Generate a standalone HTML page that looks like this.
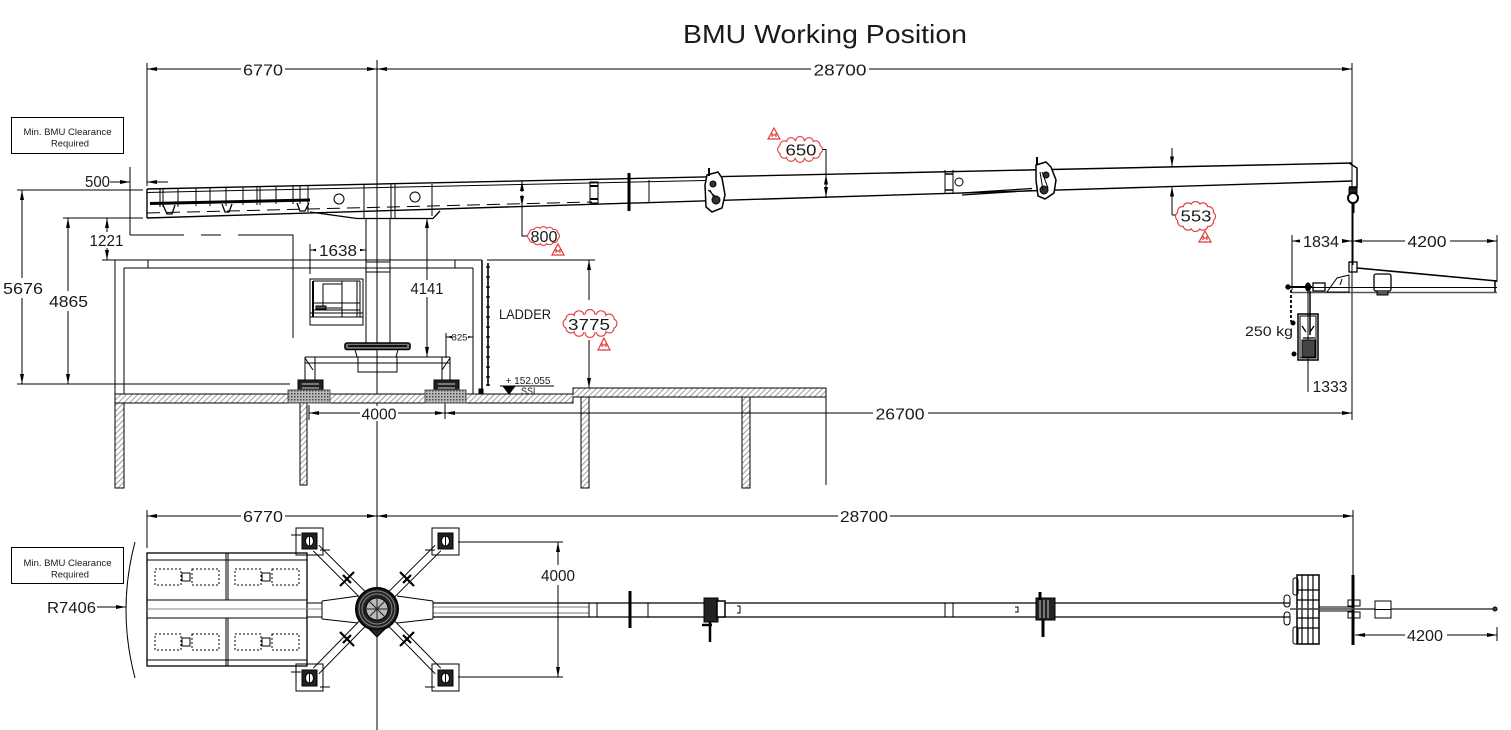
<!DOCTYPE html>
<html><head><meta charset="utf-8"><style>
html,body{margin:0;padding:0;background:#fff;}
svg{display:block;}
text{font-family:"Liberation Sans",sans-serif;fill:#1a1a1a;}
</style></head><body>
<svg width="1511" height="730" viewBox="0 0 1511 730" xmlns="http://www.w3.org/2000/svg">
<defs>
<marker id="ar" viewBox="0 0 10 4" refX="10" refY="2" markerWidth="10" markerHeight="4" markerUnits="userSpaceOnUse" orient="auto-start-reverse"><path d="M0,0L10,2L0,4z" fill="#000"/></marker>
<pattern id="h" width="4" height="4" patternUnits="userSpaceOnUse" patternTransform="rotate(45)"><rect width="4" height="4" fill="#fff"/><line x1="0" y1="0" x2="0" y2="4" stroke="#777" stroke-width="1.4"/></pattern>
<pattern id="d" width="3" height="3" patternUnits="userSpaceOnUse"><rect width="3" height="3" fill="#bbb"/><rect width="1.5" height="1.5" fill="#444"/></pattern>
</defs>
<rect width="1511" height="730" fill="#fff"/>

<!-- Title -->
<text x="825" y="43" font-size="26" text-anchor="middle" textLength="284" lengthAdjust="spacingAndGlyphs">BMU Working Position</text>

<g stroke="#000" stroke-width="1" fill="none">
<!-- central axis -->
<line x1="377" y1="60" x2="377" y2="730"/>
<!-- top dims -->
<line x1="147" y1="63" x2="147" y2="186"/>
<line x1="1352" y1="63" x2="1352" y2="420"/>
<line x1="147" y1="69" x2="377" y2="69" marker-start="url(#ar)" marker-end="url(#ar)"/>
<line x1="377" y1="69" x2="1352" y2="69" marker-start="url(#ar)" marker-end="url(#ar)"/>

<!-- clearance box -->
<rect x="11.5" y="117.5" width="112" height="36"/>

<!-- 500 dim -->
<line x1="110" y1="182" x2="130" y2="182" marker-end="url(#ar)"/>
<line x1="168" y1="182" x2="147" y2="182" marker-end="url(#ar)"/>
<line x1="130" y1="167" x2="130" y2="235"/>
<!-- clearance line -->
<path d="M130,235H184M201,235H221M238,235H293V338"/>

<!-- 5676 / 4865 / 1221 -->
<line x1="17" y1="190" x2="143" y2="190"/>
<line x1="63" y1="218" x2="143" y2="218"/>
<line x1="17" y1="384" x2="290" y2="384"/>
<line x1="22" y1="278" x2="22" y2="190" marker-end="url(#ar)"/>
<line x1="22" y1="298" x2="22" y2="384" marker-end="url(#ar)"/>
<line x1="68" y1="291" x2="68" y2="218" marker-end="url(#ar)"/>
<line x1="68" y1="311" x2="68" y2="384" marker-end="url(#ar)"/>
<line x1="107" y1="232" x2="107" y2="218" marker-end="url(#ar)"/>
<line x1="107" y1="248" x2="107" y2="260" marker-end="url(#ar)"/>
<line x1="102" y1="260" x2="115" y2="260"/>

<!-- building -->
<line x1="115" y1="260" x2="482" y2="260"/>
<line x1="124" y1="268" x2="473" y2="268"/>
<line x1="115" y1="260" x2="115" y2="394"/>
<line x1="124" y1="268" x2="124" y2="394"/>
<line x1="148" y1="260" x2="148" y2="268"/>
<line x1="455" y1="260" x2="455" y2="268"/>
<line x1="473" y1="268" x2="473" y2="394"/>
<line x1="482" y1="260" x2="482" y2="392" stroke-width="1.5"/>
<rect x="479" y="389" width="4" height="4" fill="#000"/>
<line x1="487" y1="260" x2="595" y2="260"/>
<!-- ladder -->
<line x1="488" y1="263" x2="488" y2="386" stroke-width="1.6"/>
<path d="M486,267h4M486,277h4M486,287h4M486,297h4M486,307h4M486,317h4M486,327h4M486,337h4M486,347h4M486,357h4M486,367h4M486,377h4M486,385h4" stroke-width="1.3"/>

<!-- slab -->
<path d="M115,394H573V388H826V397H573V403H115Z" fill="url(#h)"/>
<!-- columns -->
<rect x="115" y="403" width="9" height="85" fill="url(#h)"/>
<rect x="300" y="403" width="7" height="82" fill="url(#h)"/>
<rect x="581" y="397" width="8" height="91" fill="url(#h)"/>
<rect x="742" y="397" width="8" height="91" fill="url(#h)"/>
<line x1="826" y1="397" x2="826" y2="485"/>

<!-- SSL -->
<line x1="500" y1="386" x2="554" y2="386"/>
<path d="M503,386L515,386L509,394Z" fill="#000"/>

<!-- 4000 / 26700 side -->
<line x1="309" y1="405" x2="309" y2="420"/>
<line x1="445" y1="403" x2="445" y2="419"/>
<line x1="309" y1="413" x2="445" y2="413" marker-start="url(#ar)" marker-end="url(#ar)"/>
<line x1="445" y1="413" x2="1352" y2="413" marker-start="url(#ar)" marker-end="url(#ar)"/>

<!-- mast -->
<line x1="366" y1="218" x2="366" y2="343"/>
<line x1="390" y1="218" x2="390" y2="343"/>
<line x1="366" y1="262" x2="390" y2="262"/>
<line x1="366" y1="272" x2="390" y2="272"/>

<!-- 1638 -->
<line x1="310" y1="244" x2="310" y2="274"/>
<line x1="310" y1="250" x2="366" y2="250" marker-start="url(#ar)" marker-end="url(#ar)"/>

<!-- 4141 -->
<line x1="427" y1="280" x2="427" y2="218" marker-end="url(#ar)"/>
<line x1="427" y1="297" x2="427" y2="357" marker-end="url(#ar)"/>

<!-- 825 -->
<line x1="446" y1="333" x2="446" y2="358"/>
<line x1="446" y1="337" x2="473" y2="337" marker-start="url(#ar)" marker-end="url(#ar)"/>

<!-- cab -->
<rect x="310" y="279" width="53" height="46"/>
<line x1="313" y1="281" x2="313" y2="317" stroke-width="2"/>
<rect x="323" y="284" width="19" height="24"/>
<path d="M313,303H360M313,310H360M310,313H363M310,317H363M342,281V317M357,281V317M360,281V317M313,281H360"/>
<path d="M316,306h10v3h-10z" fill="#555"/>

<!-- turntable and carriage -->
<rect x="345" y="343" width="65" height="6.5" rx="2" stroke-width="1.6" fill="#777"/>
<line x1="348" y1="346" x2="407" y2="346" stroke="#111" stroke-width="2"/>
<path d="M355,349.5L357,357M398,349.5L396,357"/>
<rect x="358" y="357" width="39" height="15"/>
<line x1="305" y1="357" x2="450" y2="357"/>
<line x1="305" y1="363" x2="450" y2="363"/>
<path d="M305,357V380M315,357V380M442,357V380M450,357V380M305,358L313,370M322,363H313M450,358L442,370"/>
<rect x="298" y="380" width="25" height="12" fill="#222"/>
<rect x="434" y="380" width="25" height="12" fill="#222"/>
<path d="M302,384h17M302,388h17M438,384h17M438,388h17" stroke="#ccc"/>
<rect x="288" y="390" width="42" height="13" fill="url(#d)" stroke="#555"/>
<rect x="425" y="390" width="41" height="13" fill="url(#d)" stroke="#555"/>

<!-- 3775 dim -->
<line x1="589" y1="300" x2="589" y2="260" marker-end="url(#ar)"/>
<line x1="589" y1="340" x2="589" y2="388" marker-end="url(#ar)"/>

<!-- BOOM side -->
<path d="M147,189L1352,163" stroke-width="1.4"/>
<path d="M147,218L1352,181" stroke-width="1.4"/>
<line x1="147" y1="189" x2="147" y2="218" stroke-width="1.4"/>
<path d="M147,192.5L705,180.5"/>
<path d="M147,213L592,202" stroke-dasharray="13,7"/>
<!-- counterweight frame -->
<path d="M160,189V207M163,189V207M178,188V207M196,188V206M210,188V206M226,187V206M243,187V205M257,186V205M260,186V205M276,186V204M293,185V204M300,185V204"/>
<line x1="150" y1="203.5" x2="310" y2="200" stroke-width="3"/>
<path d="M163,205L167,214H172L175,205M222,204L225,212H229L232,204M297,203L300,211H305L309,203" stroke-width="1.3"/>
<line x1="308" y1="186" x2="308" y2="212"/>
<circle cx="339" cy="199" r="5"/>
<circle cx="415" cy="197" r="5"/>
<path d="M364,185V218M391,184V218M395,184V218M432,184V216"/>
<path d="M310,212L357,218.5H433L440,211" stroke-width="1.3"/>
<!-- section details -->
<rect x="590" y="182" width="8" height="21"/>
<path d="M590,186h8M590,199h8" stroke-width="2"/>
<line x1="629" y1="173" x2="629" y2="211" stroke-width="3"/>
<line x1="649" y1="180" x2="649" y2="202"/>
<!-- knuckle 1 -->
<path d="M707,175L718,172L722,178L725,195L722,208L712,212L706,207L705,185Z" stroke-width="1.5" fill="#fff"/>
<line x1="709" y1="168" x2="709" y2="176" stroke-width="2"/>
<circle cx="713" cy="184" r="3" fill="#333"/>
<circle cx="716" cy="200" r="4" fill="#333"/>
<path d="M708,190L716,197M710,190L714,198"/>
<!-- section 2 details -->
<path d="M945,170V194M953,170V193"/>
<path d="M945,174h8M945,190h8" stroke-width="1.5"/>
<circle cx="959" cy="182" r="4"/>
<path d="M962,195L1032,190.5M962,193L1032,188.5" stroke-width="1.3"/>
<!-- knuckle 2 -->
<path d="M1036,165L1046,162L1051,167L1056,180L1054,193L1045,199L1038,196L1036,180Z" stroke-width="1.5" fill="#fff"/>
<line x1="1037" y1="157" x2="1037" y2="165" stroke-width="2"/>
<circle cx="1046" cy="175" r="3" fill="#333"/>
<circle cx="1044" cy="190" r="4" fill="#333"/>
<path d="M1040,172L1043,190M1042,172L1048,188"/>
<!-- tip -->
<path d="M1349,163L1357,168V187H1349" stroke-width="1.5"/>
<rect x="1349" y="188" width="8" height="5" fill="#222"/>
<circle cx="1353" cy="198" r="5" stroke-width="2" fill="#fff"/>
<line x1="1353" y1="203" x2="1353" y2="213" stroke-width="3"/>

<!-- 800 leader -->
<line x1="522" y1="192" x2="522" y2="181" marker-end="url(#ar)"/>
<line x1="522" y1="195" x2="522" y2="206" marker-end="url(#ar)"/>
<path d="M522,206V236H532"/>
<!-- 650 leader -->
<path d="M822,149.5H826V198"/>
<line x1="826" y1="185" x2="826" y2="174.5" marker-end="url(#ar)"/>
<line x1="826" y1="187" x2="826" y2="197" marker-end="url(#ar)"/>
<!-- 553 leader -->
<line x1="1172" y1="148" x2="1172" y2="166.5" marker-end="url(#ar)"/>
<line x1="1172" y1="215" x2="1172" y2="186.5" marker-end="url(#ar)"/>
<line x1="1172" y1="215" x2="1181" y2="215"/>

<!-- cradle side -->
<line x1="1292" y1="235" x2="1292" y2="290"/>
<line x1="1497" y1="235" x2="1497" y2="282"/>
<line x1="1292" y1="241" x2="1352" y2="241" marker-start="url(#ar)" marker-end="url(#ar)"/>
<line x1="1352" y1="241" x2="1497" y2="241" marker-start="url(#ar)" marker-end="url(#ar)"/>
<line x1="1353" y1="213" x2="1353" y2="265"/>
<rect x="1349" y="262" width="8" height="10" stroke-width="1.3"/>
<line x1="1357" y1="268" x2="1497" y2="281" stroke-width="1.6"/>
<line x1="1290" y1="287.5" x2="1497" y2="287.5"/>
<line x1="1292" y1="292.5" x2="1497" y2="292.5" stroke="#555" stroke-width="1.5"/>
<line x1="1495" y1="280" x2="1495" y2="292" stroke-width="1.5"/>
<rect x="1374" y="274" width="17" height="17" rx="2" stroke-width="1.3"/>
<path d="M1377,291v4h11v-4" fill="#555"/>
<path d="M1327,292L1337,278L1349,275V292Z"/>
<path d="M1340,285l2,-6"/>
<rect x="1313" y="283" width="12" height="8" stroke-width="1.3"/>
<line x1="1288" y1="287" x2="1312" y2="287" stroke-width="2"/>
<circle cx="1288" cy="287" r="2.2" fill="#000"/>
<ellipse cx="1308" cy="287" rx="2.5" ry="4" fill="#000"/>
<path d="M1291,290V322" stroke-dasharray="3,2" stroke-width="1.8"/>
<line x1="1308" y1="291" x2="1308" y2="392"/>
<line x1="1310" y1="291" x2="1310" y2="335" stroke-width="1.5"/>
<rect x="1298" y="314" width="20" height="46" stroke-width="1.5"/>
<rect x="1300" y="316" width="16" height="42"/>
<path d="M1302,326l4,6M1314,326l-4,6M1303,338h12" stroke-width="1.3"/>
<rect x="1302" y="340" width="13" height="17" fill="#444"/>
<circle cx="1293" cy="323" r="2" fill="#000"/>
<circle cx="1294" cy="354" r="2" fill="#000"/>

<!-- ============ PLAN VIEW ============ -->
<line x1="147" y1="510" x2="147" y2="548"/>
<line x1="1353" y1="510" x2="1353" y2="575"/>
<line x1="147" y1="516" x2="377" y2="516" marker-start="url(#ar)" marker-end="url(#ar)"/>
<line x1="377" y1="516" x2="1353" y2="516" marker-start="url(#ar)" marker-end="url(#ar)"/>
<rect x="11.5" y="547.5" width="112" height="36"/>
<path d="M135,542Q117,610 135,678"/>
<line x1="97" y1="607" x2="126" y2="607" marker-end="url(#ar)"/>

<!-- counterweights -->
<rect x="147" y="553" width="160" height="113" stroke-width="1.3"/>
<path d="M147,560H307M147,600H307M147,618H307M147,660H307M226,553V600M228,553V600M226,618V666M228,618V666"/>
<line x1="147" y1="609" x2="322" y2="609" stroke="#888"/>
<g stroke-dasharray="2,2">
<rect x="155" y="569" width="26" height="16"/><rect x="192" y="569" width="27" height="16"/>
<rect x="235" y="569" width="26" height="16"/><rect x="272" y="569" width="27" height="16"/>
<rect x="155" y="634" width="26" height="16"/><rect x="192" y="634" width="27" height="16"/>
<rect x="235" y="634" width="26" height="16"/><rect x="272" y="634" width="27" height="16"/>
</g>
<rect x="182" y="573" width="8" height="8"/><rect x="262" y="573" width="8" height="8"/>
<rect x="182" y="638" width="8" height="8"/><rect x="262" y="638" width="8" height="8"/>

<!-- plan boom -->
<path d="M307,603H322M307,617H322"/>
<path d="M433,603H1290M433,617H1290" stroke-width="1.3"/>
<path d="M433,607H589M433,613H589" stroke="#777"/>
<path d="M322,601L358,596M322,619L358,623M322,601V619M397,596L433,601M397,623L433,619M433,601V619"/>
<rect x="589" y="603" width="8" height="14"/>
<line x1="630" y1="591" x2="630" y2="628" stroke-width="3"/>
<line x1="648" y1="603" x2="648" y2="617"/>
<rect x="704" y="598" width="14" height="24" fill="#222"/>
<rect x="717" y="601" width="8" height="16" fill="#fff" stroke-width="1.5"/>
<path d="M710,622V642M702,625H712" stroke-width="2.5"/>
<path d="M737,606h3v7h-3"/>
<rect x="945" y="603" width="8" height="14"/>
<path d="M1015,607h3v5h-3"/>
<rect x="1036" y="598" width="19" height="22" fill="#222"/>
<path d="M1040,600v18M1044,600v18M1048,600v18" stroke="#ccc"/>
<path d="M1040,592V600M1043,620V637" stroke-width="3"/>

<!-- hub -->
<circle cx="377" cy="609" r="21" fill="#222" stroke-width="2"/>
<circle cx="377" cy="609" r="18" stroke="#888"/>
<circle cx="377" cy="609" r="15" stroke="#888"/>
<circle cx="377" cy="609" r="11" fill="#bbb"/>
<path d="M370,602L384,616M384,602L370,616M377,599V619M367,609H387" stroke="#222"/>
<path d="M369,629L385,629L377,637Z" fill="#222"/>

<!-- arms -->
<path d="M318.8,545.2L364.8,591.2M313.2,550.8L359.2,596.8"/>
<path d="M440.8,550.8L394.8,596.8M435.2,545.2L389.2,591.2"/>
<path d="M318.8,673.8L364.8,626.8M313.2,668.2L359.2,621.2"/>
<path d="M440.8,668.2L394.8,621.2M435.2,673.8L389.2,626.8"/>
<path d="M340,586L354,572M343,575L351,583M400,572L414,586M403,583L411,575M340,632L354,646M343,643L351,635M400,646L414,632M403,635L411,643" stroke-width="2.2"/>

<!-- pads -->
<g>
<rect x="296" y="528" width="27" height="27"/><rect x="302" y="533" width="15" height="16" fill="#222"/><ellipse cx="309.5" cy="541" rx="4" ry="5" fill="#fff" stroke="#000"/><line x1="309.5" y1="536" x2="309.5" y2="546"/>
<rect x="432" y="528" width="27" height="27"/><rect x="438" y="533" width="15" height="16" fill="#222"/><ellipse cx="445.5" cy="541" rx="4" ry="5" fill="#fff" stroke="#000"/><line x1="445.5" y1="536" x2="445.5" y2="546"/>
<rect x="296" y="664" width="27" height="27"/><rect x="302" y="670" width="15" height="16" fill="#222"/><ellipse cx="309.5" cy="678" rx="4" ry="5" fill="#fff" stroke="#000"/><line x1="309.5" y1="673" x2="309.5" y2="683"/>
<rect x="432" y="664" width="27" height="27"/><rect x="438" y="670" width="15" height="16" fill="#222"/><ellipse cx="445.5" cy="678" rx="4" ry="5" fill="#fff" stroke="#000"/><line x1="445.5" y1="673" x2="445.5" y2="683"/>
</g>
<path d="M291,535H301M320,550H330M425,550H435M291,672H301M320,687H330M425,687H435"/>
<!-- 4000 plan dim -->
<path d="M458,542H563M458,677H563"/>
<line x1="558" y1="565" x2="558" y2="542" marker-end="url(#ar)"/>
<line x1="558" y1="585" x2="558" y2="677" marker-end="url(#ar)"/>

<!-- plan cradle -->
<rect x="1297" y="575" width="22" height="69" stroke-width="1.5"/>
<path d="M1302,575V644M1308,575V644M1313,575V644M1297,590H1319M1297,600H1319M1297,609H1319M1297,618H1319M1297,628H1319" stroke-width="1.2"/>
<rect x="1293" y="578" width="5" height="17" rx="2"/>
<rect x="1293" y="627" width="5" height="17" rx="2"/>
<rect x="1284" y="595" width="6" height="12" rx="3"/>
<rect x="1284" y="612" width="6" height="13" rx="3"/>
<line x1="1353" y1="575" x2="1353" y2="645" stroke-width="3"/>
<rect x="1348" y="600" width="12" height="6"/>
<rect x="1348" y="612" width="12" height="6"/>
<path d="M1319,607H1353M1319,611H1353"/>
<line x1="1290" y1="609" x2="1495" y2="609" stroke="#444" stroke-width="1.6"/>
<circle cx="1495" cy="609" r="2" fill="#444"/>
<rect x="1375" y="601" width="16" height="17" fill="#fff"/>
<line x1="1375" y1="609.5" x2="1391" y2="609.5"/>
<line x1="1497" y1="627" x2="1497" y2="641"/>
<line x1="1355" y1="635" x2="1497" y2="635" marker-start="url(#ar)" marker-end="url(#ar)"/>
</g>

<!-- red clouds -->
<g fill="#e23b3b">
<circle cx="612" cy="323.5" r="5.5"/><circle cx="609.1" cy="328" r="5.5"/><circle cx="601" cy="331.3" r="5.5"/><circle cx="590" cy="332.5" r="5.5"/><circle cx="579" cy="331.3" r="5.5"/><circle cx="570.9" cy="328" r="5.5"/><circle cx="568" cy="323.5" r="5.5"/><circle cx="570.9" cy="319" r="5.5"/><circle cx="579" cy="315.7" r="5.5"/><circle cx="590" cy="314.5" r="5.5"/><circle cx="601" cy="315.7" r="5.5"/><circle cx="609.1" cy="319" r="5.5"/>
<circle cx="555.5" cy="236" r="4.5"/><circle cx="553.9" cy="238.75" r="4.5"/><circle cx="549.5" cy="240.8" r="4.5"/><circle cx="543.5" cy="241.5" r="4.5"/><circle cx="537.5" cy="240.8" r="4.5"/><circle cx="533.1" cy="238.75" r="4.5"/><circle cx="531.5" cy="236" r="4.5"/><circle cx="533.1" cy="233.25" r="4.5"/><circle cx="537.5" cy="231.2" r="4.5"/><circle cx="543.5" cy="230.5" r="4.5"/><circle cx="549.5" cy="231.2" r="4.5"/><circle cx="553.9" cy="233.25" r="4.5"/>
<circle cx="818" cy="149.5" r="5"/><circle cx="815.6" cy="153.75" r="5"/><circle cx="809" cy="156.9" r="5"/><circle cx="800" cy="158" r="5"/><circle cx="791" cy="156.9" r="5"/><circle cx="784.4" cy="153.75" r="5"/><circle cx="782" cy="149.5" r="5"/><circle cx="784.4" cy="145.25" r="5"/><circle cx="791" cy="142.1" r="5"/><circle cx="800" cy="141" r="5"/><circle cx="809" cy="142.1" r="5"/><circle cx="815.6" cy="145.25" r="5"/>
<circle cx="1210.5" cy="216.5" r="5.5"/><circle cx="1208.5" cy="221.5" r="5.5"/><circle cx="1203" cy="225.2" r="5.5"/><circle cx="1195.5" cy="226.5" r="5.5"/><circle cx="1188" cy="225.2" r="5.5"/><circle cx="1182.5" cy="221.5" r="5.5"/><circle cx="1180.5" cy="216.5" r="5.5"/><circle cx="1182.5" cy="211.5" r="5.5"/><circle cx="1188" cy="207.8" r="5.5"/><circle cx="1195.5" cy="206.5" r="5.5"/><circle cx="1203" cy="207.8" r="5.5"/><circle cx="1208.5" cy="211.5" r="5.5"/>
</g>
<g fill="#fff">
<circle cx="612" cy="323.5" r="4.4"/><circle cx="609.1" cy="328" r="4.4"/><circle cx="601" cy="331.3" r="4.4"/><circle cx="590" cy="332.5" r="4.4"/><circle cx="579" cy="331.3" r="4.4"/><circle cx="570.9" cy="328" r="4.4"/><circle cx="568" cy="323.5" r="4.4"/><circle cx="570.9" cy="319" r="4.4"/><circle cx="579" cy="315.7" r="4.4"/><circle cx="590" cy="314.5" r="4.4"/><circle cx="601" cy="315.7" r="4.4"/><circle cx="609.1" cy="319" r="4.4"/><ellipse cx="590" cy="323.5" rx="22" ry="9"/>
<circle cx="555.5" cy="236" r="3.4"/><circle cx="553.9" cy="238.75" r="3.4"/><circle cx="549.5" cy="240.8" r="3.4"/><circle cx="543.5" cy="241.5" r="3.4"/><circle cx="537.5" cy="240.8" r="3.4"/><circle cx="533.1" cy="238.75" r="3.4"/><circle cx="531.5" cy="236" r="3.4"/><circle cx="533.1" cy="233.25" r="3.4"/><circle cx="537.5" cy="231.2" r="3.4"/><circle cx="543.5" cy="230.5" r="3.4"/><circle cx="549.5" cy="231.2" r="3.4"/><circle cx="553.9" cy="233.25" r="3.4"/><ellipse cx="543.5" cy="236" rx="12" ry="5.5"/>
<circle cx="818" cy="149.5" r="3.9"/><circle cx="815.6" cy="153.75" r="3.9"/><circle cx="809" cy="156.9" r="3.9"/><circle cx="800" cy="158" r="3.9"/><circle cx="791" cy="156.9" r="3.9"/><circle cx="784.4" cy="153.75" r="3.9"/><circle cx="782" cy="149.5" r="3.9"/><circle cx="784.4" cy="145.25" r="3.9"/><circle cx="791" cy="142.1" r="3.9"/><circle cx="800" cy="141" r="3.9"/><circle cx="809" cy="142.1" r="3.9"/><circle cx="815.6" cy="145.25" r="3.9"/><ellipse cx="800" cy="149.5" rx="18" ry="8.5"/>
<circle cx="1210.5" cy="216.5" r="4.4"/><circle cx="1208.5" cy="221.5" r="4.4"/><circle cx="1203" cy="225.2" r="4.4"/><circle cx="1195.5" cy="226.5" r="4.4"/><circle cx="1188" cy="225.2" r="4.4"/><circle cx="1182.5" cy="221.5" r="4.4"/><circle cx="1180.5" cy="216.5" r="4.4"/><circle cx="1182.5" cy="211.5" r="4.4"/><circle cx="1188" cy="207.8" r="4.4"/><circle cx="1195.5" cy="206.5" r="4.4"/><circle cx="1203" cy="207.8" r="4.4"/><circle cx="1208.5" cy="211.5" r="4.4"/><ellipse cx="1195.5" cy="216.5" rx="15" ry="10"/>
</g>
<!-- red triangles -->
<g fill="none" stroke="#e23b3b" stroke-width="1.2">
<path d="M774,128L780,139H768Z"/><path d="M772,133v4M776,133v4M772,135h4"/>
<path d="M558,244L564,255H552Z"/><path d="M556,249v4M560,249v4M556,251h4"/>
<path d="M604,338L610,350H598Z"/><path d="M602,343v4M606,343v4M602,345h4"/>
<path d="M1205,231L1211,242H1199Z"/><path d="M1203,236v4M1207,236v4M1203,238h4"/>
</g>

<!-- white text backgrounds on dimension lines -->
<g fill="#fff">
<rect x="241" y="62" width="44" height="14"/>
<rect x="811" y="62" width="58" height="14"/>
<rect x="0" y="279" width="46" height="17"/>
<rect x="48" y="292" width="42" height="17"/>
<rect x="87" y="233" width="38" height="15"/>
<rect x="316" y="243" width="44" height="14"/>
<rect x="408" y="280" width="38" height="17"/>
<rect x="360" y="406" width="38" height="15"/>
<rect x="873" y="406" width="55" height="15"/>
<rect x="1300" y="234" width="42" height="14"/>
<rect x="1405" y="234" width="45" height="14"/>
<rect x="241" y="509" width="44" height="14"/>
<rect x="838" y="509" width="52" height="14"/>
<rect x="538" y="566" width="40" height="18"/>
<rect x="1405" y="628" width="42" height="14"/>
<rect x="452" y="333" width="16" height="9"/>
</g>

<!-- texts -->
<g font-size="15.5" text-anchor="middle">
<text x="263" y="75.5" textLength="40" lengthAdjust="spacingAndGlyphs">6770</text>
<text x="840" y="75.5" textLength="53" lengthAdjust="spacingAndGlyphs">28700</text>
<text x="97.5" y="187" textLength="25" lengthAdjust="spacingAndGlyphs">500</text>
<text x="106.5" y="246" textLength="34" lengthAdjust="spacingAndGlyphs">1221</text>
<text x="338" y="256" textLength="38" lengthAdjust="spacingAndGlyphs">1638</text>
<text x="23" y="294" textLength="40" lengthAdjust="spacingAndGlyphs">5676</text>
<text x="68.5" y="307" textLength="39" lengthAdjust="spacingAndGlyphs">4865</text>
<text x="427" y="294" textLength="33" lengthAdjust="spacingAndGlyphs">4141</text>
<text x="589" y="330" textLength="42" lengthAdjust="spacingAndGlyphs">3775</text>
<text x="544" y="242" textLength="27" lengthAdjust="spacingAndGlyphs">800</text>
<text x="801" y="155.5" textLength="31" lengthAdjust="spacingAndGlyphs">650</text>
<text x="1196" y="221.5" textLength="31" lengthAdjust="spacingAndGlyphs">553</text>
<text x="1321" y="247" textLength="36" lengthAdjust="spacingAndGlyphs">1834</text>
<text x="1427" y="247" textLength="39" lengthAdjust="spacingAndGlyphs">4200</text>
<text x="1330" y="392" textLength="35" lengthAdjust="spacingAndGlyphs">1333</text>
<text x="379" y="419.5" textLength="35" lengthAdjust="spacingAndGlyphs">4000</text>
<text x="900" y="419.5" textLength="49" lengthAdjust="spacingAndGlyphs">26700</text>
<text x="263" y="522" textLength="40" lengthAdjust="spacingAndGlyphs">6770</text>
<text x="864" y="522" textLength="48" lengthAdjust="spacingAndGlyphs">28700</text>
<text x="558" y="581" textLength="34" lengthAdjust="spacingAndGlyphs">4000</text>
<text x="71.5" y="613" textLength="49" lengthAdjust="spacingAndGlyphs">R7406</text>
<text x="1425" y="641" textLength="36" lengthAdjust="spacingAndGlyphs">4200</text>
</g>
<text x="525" y="319" font-size="14" text-anchor="middle" textLength="52" lengthAdjust="spacingAndGlyphs">LADDER</text>
<text x="1269" y="336" font-size="14" text-anchor="middle" textLength="48" lengthAdjust="spacingAndGlyphs">250 kg</text>
<text x="459.5" y="340.5" font-size="9" text-anchor="middle" textLength="16" lengthAdjust="spacingAndGlyphs">825</text>
<text x="528" y="384" font-size="10.5" text-anchor="middle" textLength="45" lengthAdjust="spacingAndGlyphs">+ 152.055</text>
<text x="529.5" y="394.5" font-size="10.5" text-anchor="middle" textLength="17" lengthAdjust="spacingAndGlyphs">SSL</text>
<g font-size="9" text-anchor="middle">
<text x="67.5" y="135" textLength="88" lengthAdjust="spacingAndGlyphs">Min. BMU Clearance</text>
<text x="70" y="146.5" textLength="38" lengthAdjust="spacingAndGlyphs">Required</text>
<text x="67.5" y="566" textLength="88" lengthAdjust="spacingAndGlyphs">Min. BMU Clearance</text>
<text x="70" y="577.5" textLength="38" lengthAdjust="spacingAndGlyphs">Required</text>
</g>
</svg>
</body></html>
